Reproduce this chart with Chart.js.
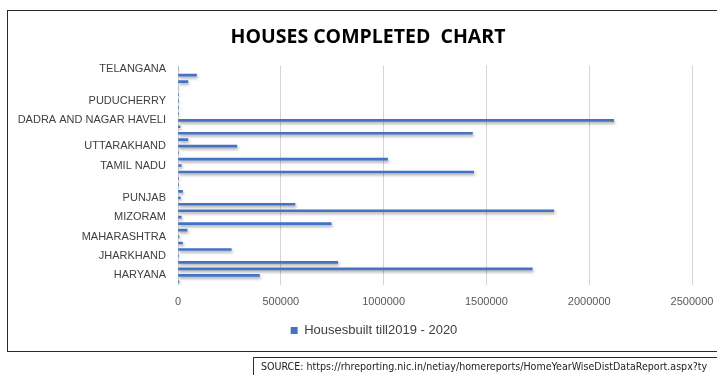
<!DOCTYPE html>
<html>
<head>
<meta charset="utf-8">
<title>Houses Completed Chart</title>
<script src="https://cdn.jsdelivr.net/npm/chart.js@4.4.1/dist/chart.umd.min.js"></script>
<style>
  html, body { margin: 0; padding: 0; background: #fff; }
  body { width: 717px; height: 375px; position: relative; overflow: hidden; }
  #frame {
    position: absolute; left: 7px; top: 10px; width: 730px; height: 342px;
    border: 1px solid #2b2b2b; box-sizing: border-box;
  }
  #chartBox { position: absolute; left: 0; top: 0; width: 717px; height: 375px; }
  #source {
    position: absolute; left: 253px; top: 357px; width: 480px; height: 20px;
    border: 1px solid #2b2b2b; box-sizing: border-box; overflow: hidden; white-space: nowrap;
    font-family: "DejaVu Sans Condensed", "DejaVu Sans", sans-serif; font-stretch: condensed;
    font-size: 10.6px; line-height: 17px; padding-left: 7px; color: #222;
  }
</style>
</head>
<body>
<div id="frame"></div>
<div id="chartBox"><canvas id="housesChart" width="717" height="375"></canvas></div>
<div id="source">SOURCE: https://rhreporting.nic.in/netiay/homereports/HomeYearWiseDistDataReport.aspx?ty</div>

<script>
// States / UTs, top of the chart first
const states = [
  "TELANGANA", "ARUNACHAL PRADESH", "CHHATTISGARH", "KERALA", "ANDHRA PRADESH",
  "PUDUCHERRY", "LAKSHADWEEP", "DAMAN AND DIU", "DADRA AND NAGAR HAVELI", "GOA",
  "ANDAMAN AND NICOBAR", "WEST BENGAL", "UTTARAKHAND", "UTTAR PRADESH", "TRIPURA",
  "TAMIL NADU", "BIHAR", "ASSAM", "SIKKIM", "RAJASTHAN",
  "PUNJAB", "ODISHA", "NAGALAND", "MIZORAM", "MEGHALAYA",
  "MANIPUR", "MAHARASHTRA", "MADHYA PRADESH", "KARNATAKA", "JHARKHAND",
  "JAMMU AND KASHMIR", "HIMACHAL PRADESH", "HARYANA", "GUJARAT"
];

// Houses built till 2019 - 2020, same order as states
const housesBuilt = [
  0, 90000, 48000, 0, 3000,
  3000, 3000, 3000, 2119000, 10000,
  1432000, 48000, 286000, 3000, 1019000,
  16000, 1438000, 3000, 3000, 22000,
  11000, 569000, 1828000, 16000, 745000,
  44000, 5000, 22000, 259000, 2000,
  777000, 1723000, 396000, 5000
];

// only these names fit on the category axis
const shownLabels = [
  "TELANGANA", "PUDUCHERRY", "DADRA AND NAGAR HAVELI", "UTTARAKHAND", "TAMIL NADU",
  "PUNJAB", "MIZORAM", "MAHARASHTRA", "JHARKHAND", "HARYANA"
];

const xTicks = [0, 500000, 1000000, 1500000, 2000000, 2500000];

const seriesName = "Housesbuilt till2019 - 2020";
const barColor = "#4472C4";

// soft drop shadow under the bars
const barShadow = {
  id: "barShadow",
  beforeDatasetsDraw(chart) {
    const ctx = chart.ctx;
    ctx.save();
    ctx.shadowColor = "rgba(0, 0, 0, 0.35)";
    ctx.shadowBlur = 3;
    ctx.shadowOffsetX = 1;
    ctx.shadowOffsetY = 2;
  },
  afterDatasetsDraw(chart) {
    chart.ctx.restore();
  }
};

// nudge title and legend right so they sit centred in the frame
const centreBlocks = {
  id: "centreBlocks",
  afterLayout(chart) {
    if (chart.titleBlock) {
      chart.titleBlock.left += 22;
      chart.titleBlock.right += 22;
    }
    if (chart.legend) {
      chart.legend.left += 28;
      chart.legend.right += 28;
    }
  }
};

const ctx = document.getElementById("housesChart").getContext("2d");

new Chart(ctx, {
  type: "bar",
  data: {
    labels: states,
    datasets: [{
      label: seriesName,
      data: housesBuilt,
      backgroundColor: barColor,
      borderWidth: 0,
      barThickness: 2
    }]
  },
  plugins: [barShadow, centreBlocks],
  options: {
    indexAxis: "y",
    responsive: false,
    animation: false,
    layout: { padding: { left: 0, right: 25, top: 0, bottom: 28 } },
    scales: {
      x: {
        min: 0,
        max: 2500000,
        afterBuildTicks(scale) {
          scale.ticks = xTicks.map(v => ({ value: v }));
        },
        afterFit(scale) {
          scale.height = 29;
          // the end labels fit inside the layout padding already
          scale.paddingLeft = 0;
          scale.paddingRight = 0;
        },
        grid: { color: "#d4d4d4", drawTicks: false },
        border: { display: false },
        ticks: {
          padding: 10,
          color: "#595959",
          font: { family: "Liberation Sans", size: 11 },
          callback: v => String(v)
        }
      },
      y: {
        afterFit(scale) {
          scale.width = 178;
        },
        grid: { display: false, drawTicks: false },
        border: { display: false },
        ticks: {
          autoSkip: false,
          padding: 12,
          color: "#404040",
          font: { family: "Liberation Sans", size: 11 },
          callback(value) {
            const name = states[value];
            return shownLabels.includes(name) ? name : "";
          }
        }
      }
    },
    plugins: {
      title: {
        display: true,
        text: "HOUSES COMPLETED  CHART",
        color: "#000",
        font: { family: "Open Sans", size: 19.5, weight: "bold" },
        padding: { top: 26, bottom: 16 }
      },
      legend: {
        position: "bottom",
        labels: {
          boxWidth: 7,
          boxHeight: 7,
          padding: 10,
          color: "#404040",
          font: { family: "Liberation Sans", size: 13 }
        }
      },
      tooltip: { enabled: false }
    }
  }
});
</script>
</body>
</html>
